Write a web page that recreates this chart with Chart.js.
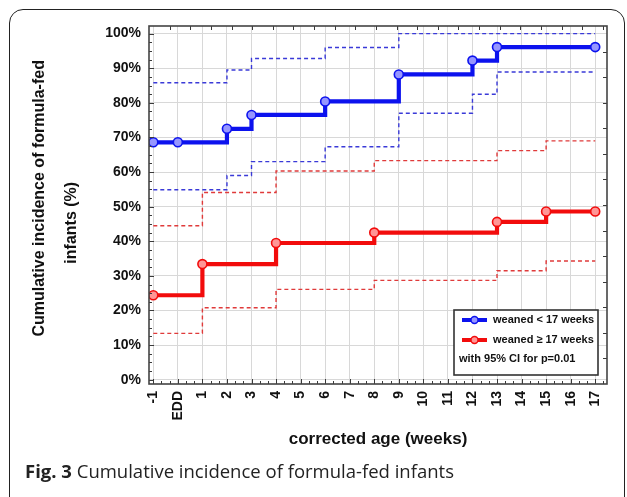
<!DOCTYPE html>
<html>
<head>
<meta charset="utf-8">
<script src="https://cdn.jsdelivr.net/npm/chart.js@4.4.1/dist/chart.umd.min.js"></script>
<style>
  html, body { margin: 0; padding: 0; background: #ffffff; }
  #wrap { position: relative; width: 627px; height: 497px; overflow: hidden; background: #fff; }
  #frame { position: absolute; left: 9px; top: 9px; width: 616px; height: 540px; border: 1.5px solid #222; border-radius: 14px; box-sizing: border-box; }
  #cv { position: absolute; left: 0; top: 0; }
  #caption { position: absolute; left: 25px; top: 458px; font-family: 'Open Sans', sans-serif; font-size: 18.5px; color: #222; white-space: nowrap; }
  #caption b { font-weight: 700; }
</style>
</head>
<body>
<div id="wrap">
  <div id="frame"></div>
  <canvas id="cv" width="627" height="497"></canvas>
  <div id="caption"><b>Fig. 3</b> Cumulative incidence of formula-fed infants</div>
</div>
<script>
// ---- data ----
const weeks = [-1, 0, 1, 2, 3, 4, 5, 6, 7, 8, 9, 10, 11, 12, 13, 14, 15, 16, 17];
const weekLabels = ['-1', 'EDD', '1', '2', '3', '4', '5', '6', '7', '8', '9', '10', '11', '12', '13', '14', '15', '16', '17'];
const yTicks = [0, 10, 20, 30, 40, 50, 60, 70, 80, 90, 100];

// weaned < 17 weeks
const earlyX = [-1, 0, 2, 3, 6, 9, 12, 13, 17];
const earlyY = [68.6, 68.6, 72.5, 76.5, 80.4, 88.2, 92.2, 96.1, 96.1];
const earlyUpperX = [-1, 2, 3, 6, 9, 17];
const earlyUpperY = [85.8, 89.5, 92.8, 96.0, 100, 100];
const earlyLowerX = [-1, 2, 3, 6, 9, 12, 13, 17];
const earlyLowerY = [54.9, 59.0, 63.0, 67.3, 77.0, 82.5, 88.9, 88.9];

// weaned >= 17 weeks
const lateX = [-1, 1, 4, 8, 13, 15, 17];
const lateY = [24.4, 33.4, 39.5, 42.5, 45.6, 48.6, 48.6];
const lateUpperY = [44.5, 54.1, 60.3, 63.3, 66.2, 69.0, 69.0];
const lateLowerY = [13.4, 20.8, 26.1, 28.7, 31.5, 34.3, 34.3];

const legendLabels = ['weaned < 17 weeks', 'weaned \u2265 17 weeks'];
const legendNote = 'with 95% CI for p=0.01';

const BLUE = '#0c12ee';
const RED = '#f20c0c';
const BLUE_CI = '#3a3ad8';
const RED_CI = '#e03a3a';

const pts = (xs, ys) => xs.map((x, i) => ({ x: x, y: ys[i] }));

Chart.defaults.font.family = "'Liberation Sans', Arial, sans-serif";
Chart.defaults.color = '#111';

const ciStyle = (c) => ({ borderColor: c, borderWidth: 1.4, borderDash: [4, 3], pointRadius: 0, stepped: 'before', fill: false });
const mainStyle = (c, bg) => ({ borderColor: c, borderWidth: 4.2, pointRadius: 4.5, pointBorderWidth: 1.6, pointBorderColor: c, pointBackgroundColor: bg, stepped: 'before', fill: false });

const deco = {
  id: 'deco',
  afterDatasetsDraw(chart) {
    const ctx = chart.ctx, a = chart.chartArea, xs = chart.scales.x, ys = chart.scales.y;
    ctx.save();
    ctx.strokeStyle = '#3a3a3a';
    ctx.lineWidth = 1;
    ctx.beginPath();
    for (let v = 0; v <= 100.01; v += 2.5) {
      const y = Math.round(ys.getPixelForValue(v)) + 0.5;
      const len = (Math.abs(v % 10) < 0.01) ? 5 : 3;
      ctx.moveTo(a.left, y); ctx.lineTo(a.left + len, y);
    }
    for (let k = 0; k <= 55; k++) {
      const v = -1 + k / 3;
      const x = Math.round(xs.getPixelForValue(v)) + 0.5;
      const len = (k % 3 === 0) ? 5 : 3;
      ctx.moveTo(x, a.bottom); ctx.lineTo(x, a.bottom - len);
    }
    const tw = (a.right - a.left) / 22.2;
    for (let k = 1; k < 23; k++) {
      const x = Math.round(a.left + k * tw) + 0.5;
      if (x >= a.right) break;
      ctx.moveTo(x, a.top); ctx.lineTo(x, a.top + 4);
    }
    const th = (a.bottom - a.top) / 14;
    for (let k = 1; k < 14; k++) {
      const y = Math.round(a.top + k * th) + 0.5;
      ctx.moveTo(a.right, y); ctx.lineTo(a.right - 4, y);
    }
    ctx.stroke();
    ctx.strokeStyle = '#444';
    ctx.lineWidth = 1.6;
    ctx.strokeRect(a.left, a.top, a.right - a.left, a.bottom - a.top);

    // legend box
    const bw = 144, bh = 65;
    const bx = a.right - 9 - bw, by = a.bottom - 9 - bh;
    ctx.fillStyle = '#fff';
    ctx.fillRect(bx, by, bw, bh);
    ctx.strokeStyle = '#333';
    ctx.lineWidth = 1.6;
    ctx.strokeRect(bx, by, bw, bh);
    const rows = [[BLUE, 'rgba(150,150,255,1)'], [RED, 'rgba(255,150,150,1)']];
    ctx.font = "bold 11px 'Liberation Sans', Arial, sans-serif";
    ctx.textBaseline = 'middle';
    ctx.textAlign = 'left';
    rows.forEach((r, i) => {
      const y = by + 10 + i * 20;
      ctx.strokeStyle = r[0];
      ctx.lineWidth = 4;
      ctx.beginPath();
      ctx.moveTo(bx + 8, y); ctx.lineTo(bx + 33, y);
      ctx.stroke();
      ctx.beginPath();
      ctx.arc(bx + 20.5, y, 3.5, 0, Math.PI * 2);
      ctx.fillStyle = r[1];
      ctx.fill();
      ctx.lineWidth = 1.4;
      ctx.stroke();
      ctx.fillStyle = '#111';
      ctx.fillText(legendLabels[i], bx + 39, y);
    });
    ctx.fillText(legendNote, bx + 5, by + 49);
    ctx.restore();
  }
};

new Chart(document.getElementById('cv'), {
  type: 'line',
  data: {
    datasets: [
      Object.assign({ label: 'early upper', data: pts(earlyUpperX, earlyUpperY) }, ciStyle(BLUE_CI)),
      Object.assign({ label: 'early lower', data: pts(earlyLowerX, earlyLowerY) }, ciStyle(BLUE_CI)),
      Object.assign({ label: 'late upper', data: pts(lateX, lateUpperY) }, ciStyle(RED_CI)),
      Object.assign({ label: 'late lower', data: pts(lateX, lateLowerY) }, ciStyle(RED_CI)),
      Object.assign({ label: legendLabels[1], data: pts(lateX, lateY) }, mainStyle(RED, 'rgba(255,150,150,1)')),
      Object.assign({ label: legendLabels[0], data: pts(earlyX, earlyY) }, mainStyle(BLUE, 'rgba(150,150,255,1)'))
    ]
  },
  options: {
    responsive: false,
    animation: false,
    layout: { padding: { left: 0, right: 20, top: 26, bottom: 0 } },
    plugins: { legend: { display: false }, tooltip: { enabled: false } },
    scales: {
      x: {
        type: 'linear',
        min: -1.175, max: 17.48,
        afterBuildTicks: (s) => { s.ticks = weeks.map(v => ({ value: v })); },
        afterFit: (s) => { s.height = 113; },
        grid: { color: '#d8d8d8', lineWidth: 1, drawTicks: false },
        border: { display: false },
        ticks: {
          autoSkip: false, minRotation: 90, maxRotation: 90, padding: 7,
          font: { size: 14, weight: 'bold' }, color: '#111',
          callback: (v) => { const i = weeks.indexOf(v); return i >= 0 ? weekLabels[i] : ''; }
        },
        title: { display: true, text: 'corrected age (weeks)', font: { size: 17, weight: 'bold' }, color: '#111', padding: { top: 0, bottom: 47 } }
      },
      y: {
        min: -1.24, max: 102.2,
        afterBuildTicks: (s) => { s.ticks = yTicks.map(v => ({ value: v })); },
        afterFit: (s) => { s.width = 149; },
        grid: { color: '#d8d8d8', lineWidth: 1, drawTicks: false },
        border: { display: false },
        ticks: { padding: 8, font: { size: 14, weight: 'bold' }, color: '#111', callback: (v) => v + '%' },
        title: {
          display: true,
          text: ['   Cumulative incidence of formula-fed', 'infants (%)        '],
          font: { size: 16, weight: 'bold', lineHeight: 2 }, color: '#111',
          padding: { top: 24, bottom: 0 }
        }
      }
    }
  },
  plugins: [deco]
});
</script>
</body>
</html>
